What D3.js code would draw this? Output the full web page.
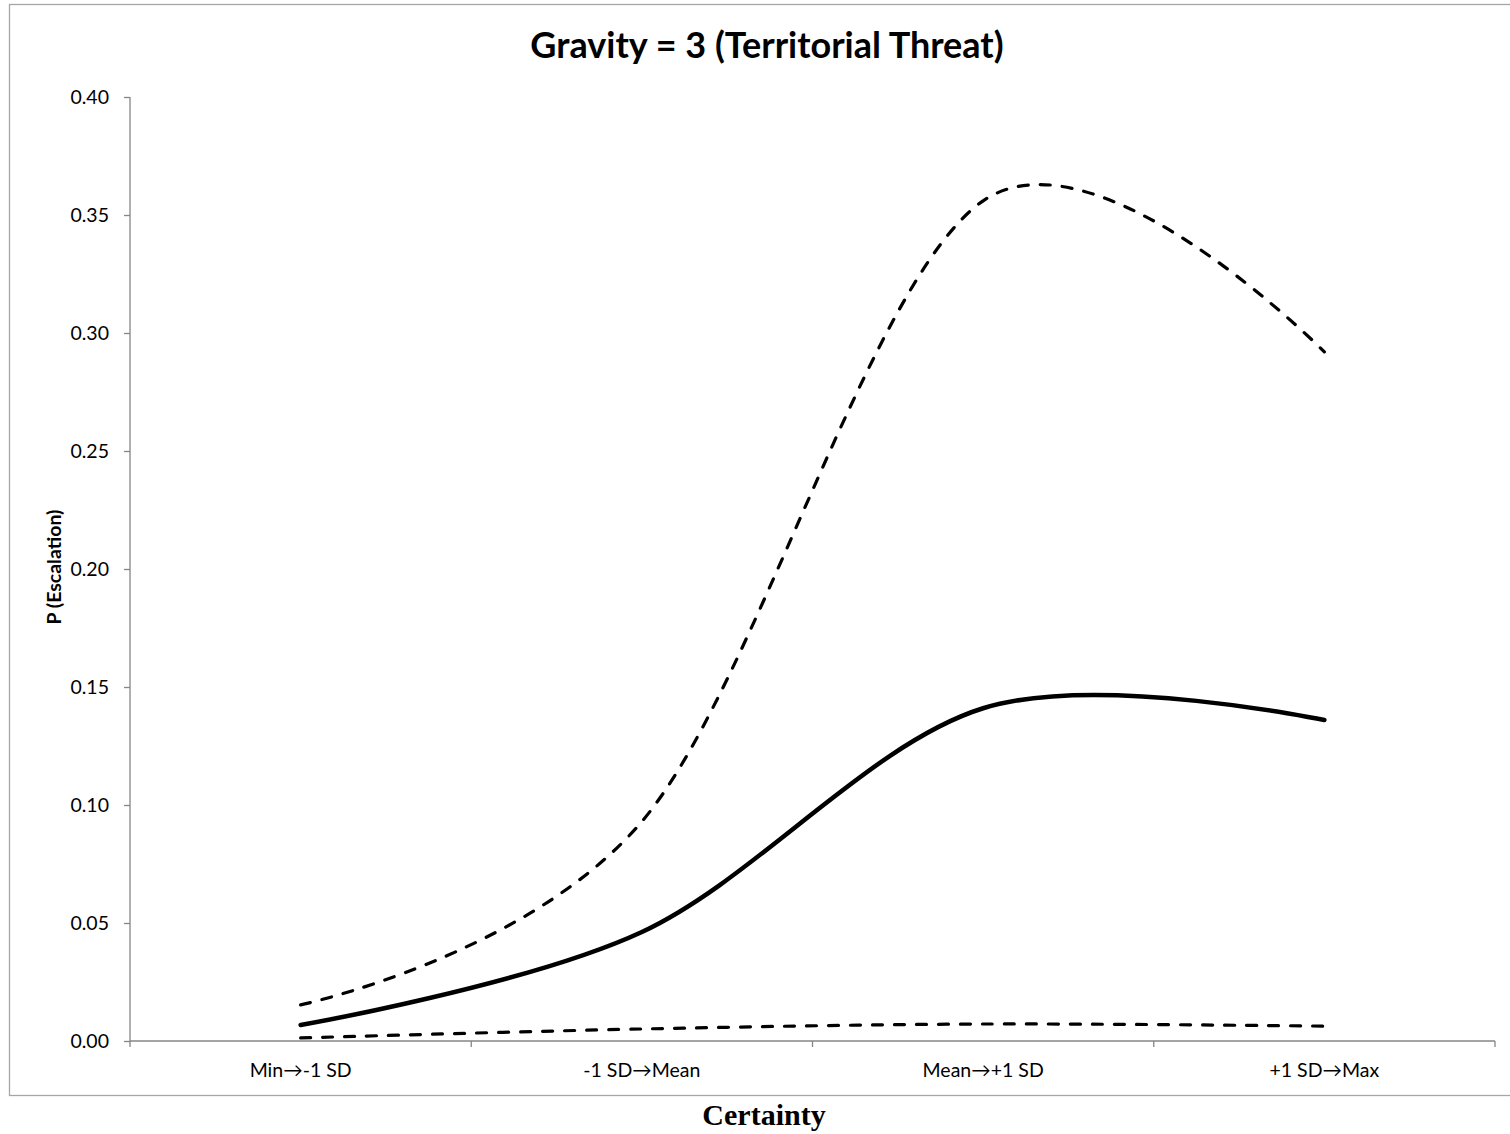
<!DOCTYPE html>
<html>
<head>
<meta charset="utf-8">
<script src="https://cdn.jsdelivr.net/npm/d3@7"></script>
<style>
  html, body { margin: 0; padding: 0; background: #fff; }
  svg { display: block; }
</style>
</head>
<body>
<svg id="chart" width="1510" height="1134"></svg>
<script>
// ---- data ----
const categories = ["Min\u2192-1 SD", "-1 SD\u2192Mean", "Mean\u2192+1 SD", "+1 SD\u2192Max"];
const meanValues  = [0.0068, 0.0462, 0.1410, 0.1360];
const upperValues = [0.0153, 0.0930, 0.3560, 0.2920];
const lowerValues = [0.0013, 0.0051, 0.0072, 0.0063];
const yTicks = [0, 0.05, 0.10, 0.15, 0.20, 0.25, 0.30, 0.35, 0.40];
const titleText = "Gravity = 3 (Territorial Threat)";
const yLabel = "P (Escalation)";
const xLabel = "Certainty";

const svg = d3.select("#chart");
const plot = { left: 130, right: 1495, top: 97, bottom: 1041 };

// outer chart border
svg.append("rect")
  .attr("x", 9.5).attr("y", 4.5)
  .attr("width", 1510).attr("height", 1091)
  .attr("fill", "none").attr("stroke", "#a6a6a6").attr("stroke-width", 1.3);

const x = d3.scaleBand().domain(categories).range([plot.left, plot.right]).paddingInner(0).paddingOuter(0);
const y = d3.scaleLinear().domain([0, 0.4]).range([plot.bottom, plot.top]);

const labelFont = "Lato, 'Open Sans', sans-serif";

// y axis
const yAxis = svg.append("g")
  .attr("transform", `translate(${plot.left},0)`)
  .call(d3.axisLeft(y).tickValues(yTicks).tickFormat(d3.format(".2f")).tickSize(6).tickPadding(15));
yAxis.select(".domain").attr("stroke", "#868686").attr("stroke-width", 1.3)
  .attr("d", `M0,${plot.top}V${plot.bottom}`);
yAxis.selectAll(".tick line").attr("stroke", "#868686").attr("stroke-width", 1.3);
yAxis.selectAll(".tick text").attr("font-family", labelFont).attr("font-size", 19.5).attr("fill", "#000");

// x axis
const xAxis = svg.append("g")
  .attr("transform", `translate(0,${plot.bottom})`)
  .call(d3.axisBottom(x).tickSize(0).tickPadding(22));
xAxis.select(".domain").attr("stroke", "#868686").attr("stroke-width", 1.3)
  .attr("d", `M${plot.left},0H${plot.right}`);
xAxis.selectAll(".tick text").attr("font-family", labelFont).attr("font-size", 19.5).attr("fill", "#000");
// boundary tick marks between categories
const boundaries = categories.map(c => x(c)).concat([plot.right]);
xAxis.selectAll(".bound").data(boundaries).enter().append("line")
  .attr("class", "bound")
  .attr("x1", d => d).attr("x2", d => d).attr("y1", 0).attr("y2", 6)
  .attr("stroke", "#868686").attr("stroke-width", 1.3);

// lines
const cx = i => x(categories[i]) + x.bandwidth() / 2;
const line = d3.line().x((d, i) => cx(i)).y(d => y(d)).curve(d3.curveCardinal.tension(0));

svg.append("path").datum(upperValues)
  .attr("d", line).attr("fill", "none").attr("stroke", "#000")
  .attr("stroke-width", 3.2).attr("stroke-dasharray", "10,12").attr("stroke-linecap", "round");
svg.append("path").datum(lowerValues)
  .attr("d", line).attr("fill", "none").attr("stroke", "#000")
  .attr("stroke-width", 3.2).attr("stroke-dasharray", "10,12").attr("stroke-linecap", "round");
svg.append("path").datum(meanValues)
  .attr("d", line).attr("fill", "none").attr("stroke", "#000")
  .attr("stroke-width", 4.5).attr("stroke-linecap", "round");

// title
svg.append("text")
  .attr("x", 767).attr("y", 58)
  .attr("text-anchor", "middle")
  .attr("font-family", labelFont).attr("font-weight", "bold").attr("font-size", 36)
  .attr("fill", "#000").text(titleText);

// y label
svg.append("text")
  .attr("transform", "translate(61,567) rotate(-90)")
  .attr("text-anchor", "middle")
  .attr("font-family", labelFont).attr("font-weight", "bold").attr("font-size", 19.5)
  .attr("fill", "#000").text(yLabel);

// x label
svg.append("text")
  .attr("x", 764).attr("y", 1125)
  .attr("text-anchor", "middle")
  .attr("font-family", "'Liberation Serif', 'DejaVu Serif', serif").attr("font-weight", "bold").attr("font-size", 30)
  .attr("fill", "#000").text(xLabel);
</script>
</body>
</html>
